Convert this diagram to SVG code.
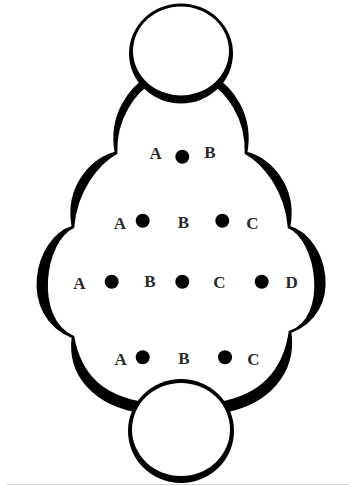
<svg xmlns="http://www.w3.org/2000/svg" width="349" height="486" viewBox="0 0 349 486">
  <style>
    .lobe { fill: #000; stroke: #000; stroke-width: 2.6; stroke-linejoin: round; }
    .ring-out { fill: #000; }
    .ring-in { fill: #fff; }
    .dot { fill: #000; }
    .lbl { font-family: "Liberation Serif", "Times New Roman", serif; font-size: 17px; font-weight: bold; fill: #2a2a2a; text-anchor: middle; }
  </style>
  <rect x="0" y="0" width="349" height="486" fill="#fff"/>
  <line x1="7" y1="484.5" x2="349" y2="484.5" stroke="#d6d6d6" stroke-width="1"/>

  <g id="body">
    <path class="lobe" d="M150,76 C130,88 109,115 116,153 C115,118 134,92 154,80 Z"/>
    <path class="lobe" d="M116,153 C95,157 65,185 73,227 C76,190 98,163 116,153 Z"/>
    <path class="lobe" d="M73,227 C35,238 18,315 73,337 C32,318 44,240 73,227 Z"/>
    <path class="lobe" d="M73,337 C68,375 95,405 142,412 L142,403 C102,396 80,375 73,337 Z"/>
    <path class="lobe" d="M212,76 C232,88 253,115 246,153 C247,118 228,92 208,80 Z"/>
    <path class="lobe" d="M246,153 C267,157 297,185 289,227 C286,190 264,163 246,153 Z"/>
    <path class="lobe" d="M289,227 C327,238 344,312 290,332 C330,318 318,240 289,227 Z"/>
    <path class="lobe" d="M290,332 C296,372 268,405 220,412 L220,403 C260,396 284,372 290,332 Z"/>
  </g>

  <g id="top-circle">
    <ellipse class="ring-out" cx="181" cy="53.5" rx="52" ry="50"/>
    <ellipse class="ring-in" cx="181" cy="51" rx="48" ry="44.5"/>
  </g>

  <g id="bottom-circle">
    <ellipse class="ring-out" cx="181" cy="431" rx="53" ry="52"/>
    <ellipse class="ring-in" cx="181" cy="429.5" rx="49" ry="46.5"/>
  </g>

  <g id="row1">
    <text class="lbl" x="155.7" y="158.8">A</text>
    <circle class="dot" cx="182.3" cy="156.7" r="7"/>
    <text class="lbl" x="210" y="158.3">B</text>
  </g>

  <g id="row2">
    <text class="lbl" x="120" y="228.9">A</text>
    <circle class="dot" cx="142.7" cy="220.7" r="7"/>
    <text class="lbl" x="183.3" y="228.3">B</text>
    <circle class="dot" cx="222.3" cy="220.7" r="7"/>
    <text class="lbl" x="252.3" y="228.9">C</text>
  </g>

  <g id="row3">
    <text class="lbl" x="79.3" y="288.9">A</text>
    <circle class="dot" cx="111.7" cy="281.7" r="7"/>
    <text class="lbl" x="150" y="287.3">B</text>
    <circle class="dot" cx="182.3" cy="281.7" r="7"/>
    <text class="lbl" x="219.3" y="288.3">C</text>
    <circle class="dot" cx="261.7" cy="281.7" r="7"/>
    <text class="lbl" x="291.7" y="288.3">D</text>
  </g>

  <g id="row4">
    <text class="lbl" x="120.7" y="364.9">A</text>
    <circle class="dot" cx="142.7" cy="357.3" r="7"/>
    <text class="lbl" x="184" y="363.9">B</text>
    <circle class="dot" cx="225" cy="357.3" r="7"/>
    <text class="lbl" x="253.3" y="364.9">C</text>
  </g>
</svg>
